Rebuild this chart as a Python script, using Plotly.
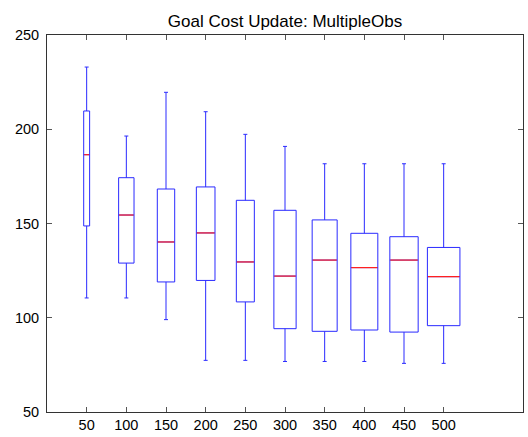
import plotly.graph_objects as go

# Goal-cost statistics per number of samples
categories = [50, 100, 150, 200, 250, 300, 350, 400, 450, 500]
upper_whisker = [233.0, 196.4, 219.6, 209.3, 197.3, 190.9, 181.7, 181.7, 181.7, 181.7]
q3_values = [209.7, 174.3, 168.3, 169.4, 162.3, 157.0, 151.9, 144.8, 143.0, 137.3]
median_values = [186.5, 154.5, 140.2, 145.0, 129.6, 122.1, 130.6, 126.6, 130.6, 121.8]
q1_values = [148.7, 129.0, 119.0, 119.8, 108.4, 94.2, 92.8, 93.5, 92.4, 95.8]
lower_whisker = [110.5, 110.5, 99.0, 77.4, 77.4, 76.8, 76.8, 76.8, 75.8, 75.8]
y_ticks = [50, 100, 150, 200, 250]

# Box widths (x-axis units) and whisker-cap size in pixels
box_widths = [7.5, 19.4, 21.9, 23.5, 22.7, 28.0, 31.5, 34.0, 35.7, 41.0]
cap_px = 4.0
px_per_unit = 476.0 / 600.0

BLUE = "#2a2aff"
RED = "#ff2020"

fig = go.Figure()

for i, c in enumerate(categories):
    w = box_widths[i]
    fig.add_trace(go.Box(
        x=[c],
        q1=[q1_values[i]],
        median=[median_values[i]],
        q3=[q3_values[i]],
        lowerfence=[lower_whisker[i]],
        upperfence=[upper_whisker[i]],
        width=w,
        whiskerwidth=min(1.0, cap_px / (w * px_per_unit)),
        line=dict(color=BLUE, width=1),
        fillcolor="rgba(255,255,255,0)",
        boxpoints=False,
        showlegend=False,
        hoverinfo="skip",
    ))

# Red median markers across each box
for i, c in enumerate(categories):
    half = box_widths[i] / 2.0 - 0.6
    fig.add_trace(go.Scatter(
        x=[c - half, c + half],
        y=[median_values[i], median_values[i]],
        mode="lines",
        line=dict(color=RED, width=1.2),
        showlegend=False,
        hoverinfo="skip",
    ))

axis_common = dict(
    showline=True,
    linecolor="#333333",
    linewidth=1,
    mirror="ticks",
    ticks="inside",
    ticklen=5,
    tickcolor="#555555",
    showgrid=False,
    zeroline=False,
    tickfont=dict(family="Liberation Sans, Arial, sans-serif", size=14.5, color="#000000"),
)

fig.update_layout(
    width=528,
    height=437,
    margin=dict(l=47, r=5, t=35, b=25),
    paper_bgcolor="white",
    plot_bgcolor="white",
    boxmode="overlay",
    title=dict(
        text="Goal Cost Update: MultipleObs",
        x=(47 + 523) / 2 / 528,
        xanchor="center",
        y=1 - 21 / 437,
        yanchor="middle",
        font=dict(family="Liberation Sans, Arial, sans-serif", size=17, color="#000000"),
    ),
    xaxis=dict(
        range=[0, 600],
        tickmode="array",
        tickvals=categories,
        ticktext=[str(c) for c in categories],
        **axis_common,
    ),
    yaxis=dict(
        range=[50, 250],
        tickmode="array",
        tickvals=y_ticks,
        ticktext=[str(v) for v in y_ticks],
        ticklabelstandoff=4,
        **axis_common,
    ),
)

fig.write_html("out.html")
